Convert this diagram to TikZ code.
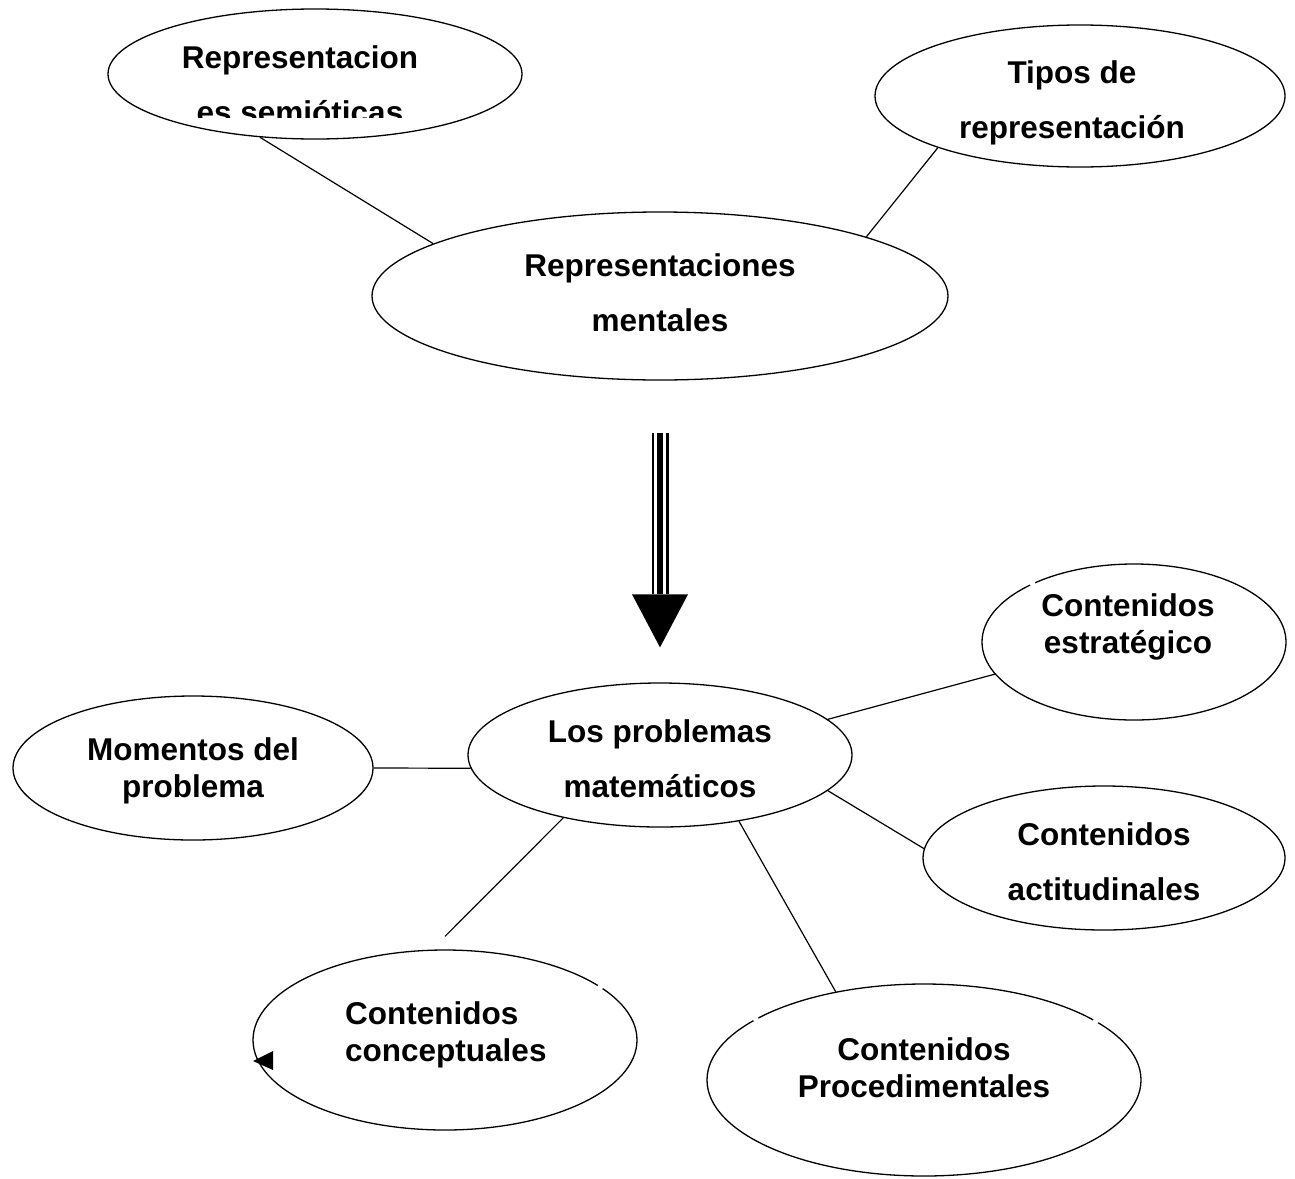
\documentclass[tikz,border=0pt]{standalone}
\usepackage{fontspec}
\setmainfont{Liberation Sans}
\usetikzlibrary{shapes.geometric,calc}
\tikzset{
  ellnode/.style n args={2}{draw, ellipse, line width=1.3pt, inner sep=0pt, minimum width=#1, minimum height=#2},
  txtwide/.style={font=\fontsize{31.5}{55}\selectfont\bfseries, align=center, inner sep=0pt},
  txttight/.style={font=\fontsize{31.5}{37}\selectfont\bfseries, align=center, inner sep=0pt},
  link/.style={draw, line width=1.2pt},
  gap/.style={fill=white}
}
\begin{document}
\begin{tikzpicture}[x=1pt,y=-1pt]
\useasboundingbox[fill=white] (0,0) rectangle (1295,1178);

% ellipses
\node[ellnode={414}{130}] (rs) at (315,74) {};
\node[ellnode={410}{142}] (tipos) at (1080,96) {};
\node[ellnode={576}{168}] (ment) at (660,296) {};
\node[ellnode={384}{144}] (prob) at (660,755) {};
\node[ellnode={360}{144}] (mom) at (193,768) {};
\node[ellnode={304}{156}] (estr) at (1134,642) {};
\node[ellnode={362}{144}] (acti) at (1104,858) {};
\node[ellnode={384}{180}] (conc) at (445,1040) {};
\node[ellnode={434}{192}] (proc) at (924,1080) {};

% small breaks in outlines
\fill[gap] (estr.150) circle (3);
\fill[gap] (proc.160) circle (3);
\fill[gap] (proc.19) circle (3);
\fill[gap] (conc.19) circle (3);

% texts
\begin{scope}
  \clip (0,0) rectangle (1295,117);
  \node[txtwide] (rstxt) at (300,85) {Representacion\\es semióticas};
\end{scope}
\node[txtwide] (tipostxt) at (1072,103) {Tipos de\\representación};
\node[txtwide] (menttxt) at (660,293) {Representaciones\\mentales};
\node[txtwide] (probtxt) at (660,759) {Los problemas\\matemáticos};
\node[txttight] (momtxt) at (193,771) {Momentos del\\problema};
\node[txttight] (estrtxt) at (1128,627) {Contenidos\\estratégico};
\node[txtwide] (actitxt) at (1104,862) {Contenidos\\actitudinales};
\node[txttight, align=left, anchor=west] (conctxt) at (345,1035) {Contenidos\\conceptuales};
\node[txttight] (proctxt) at (924,1068) {Contenidos\\Procedimentales};

% connectors
\draw[link] (rs.-131) -- (ment.167);
\draw[link] (tipos.-160) -- (ment.16);
\draw[link] (mom.east) -- (prob.-176);
\draw[link] (prob.12) -- (estr.-167);
\draw[link] (prob.-12) -- (acti.177);
\coordinate (conctop) at ($(conc.north)+(0,-13)$);
\draw[link] (prob.-147) -- (conctop);
\draw[link] (prob.-40) -- (proc.135);

% triple arrow
\coordinate (astart) at ($(ment.south)+(0,52)$);
\coordinate (abase) at ($(prob.north)+(0,-88)$);
\coordinate (atip) at ($(prob.north)+(0,-35)$);
\draw[line width=17pt] (astart) -- (abase);
\draw[line width=12pt, white] ($(astart)+(0,-1)$) -- ($(abase)+(0,1)$);
\draw[line width=6pt] (astart) -- (abase);
\fill ($(abase)+(-28,0)$) -- ($(abase)+(28,0)$) -- (atip) -- cycle;

% small arrowhead on conceptuales
\fill (253,1061) -- (273,1051) -- (273,1070) -- cycle;
\end{tikzpicture}
\end{document}
